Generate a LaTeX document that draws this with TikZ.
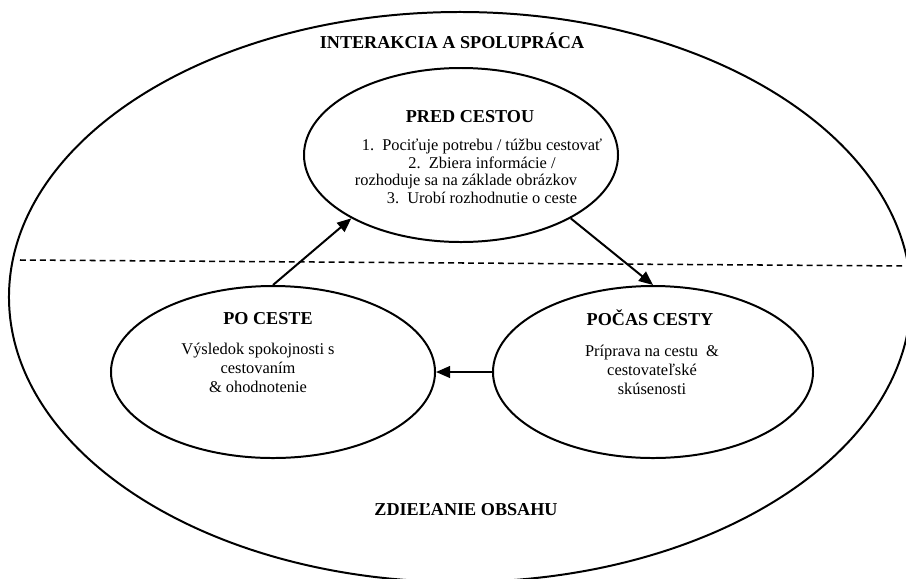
\documentclass[tikz,border=0pt]{standalone}
\usepackage{fontspec}
\setmainfont{Liberation Serif}
\usetikzlibrary{shapes, arrows.meta, positioning}

\begin{document}
\begin{tikzpicture}[
    x=0.03cm, y=-0.03cm,
    phase/.style={draw, ellipse, line width=1.7pt, inner sep=0pt},
    zone/.style={phase, minimum width=27.06cm, minimum height=17.1cm},
    heading/.style={font=\fontsize{15.5}{17}\selectfont\bfseries,
                    anchor=base, inner sep=0pt},
    body/.style={font=\fontsize{14}{16}\selectfont, align=center, inner sep=0pt},
    item/.style={font=\fontsize{14}{15}\selectfont, anchor=base, inner sep=0pt},
    flow/.style={-{Triangle[length=12pt, width=10pt]}, line width=1.7pt},
    divider/.style={line width=1.3pt, dash pattern=on 5pt off 3.5pt},
]
  \useasboundingbox (0,0) rectangle (906,578);

  \node[zone] (world) at (460,297) {};
  \coordinate (cutL) at (20,260);
  \coordinate (cutR) at (910,266);
  \draw[divider] (cutL) -- (cutR);

  \node[phase, minimum width=9.42cm, minimum height=5.22cm] (pre)    at (461,155) {};
  \node[phase, minimum width=9.72cm, minimum height=5.16cm] (post)   at (273,372) {};
  \node[phase, minimum width=9.6cm,  minimum height=5.16cm] (during) at (653,372) {};

  \draw[flow] (post.north)  -- (pre.210);
  \draw[flow] (pre.330)     -- (during.north);
  \draw[flow] (during.west) -- (post.east);

  \node[heading] (collab) at (452,48)  {INTERAKCIA A SPOLUPRÁCA};
  \node[heading] (share)  at (466,515) {ZDIEĽANIE OBSAHU};

  \node[heading] (preTitle) at (470,122) {PRED CESTOU};
  \node[item] (pre1)  at (482,150) {1.\enspace Pociťuje potrebu / túžbu cestovať};
  \node[item] (pre2)  at (482,168) {2.\enspace Zbiera informácie /};
  \node[item] (pre2b) at (466,185) {rozhoduje sa na základe obrázkov};
  \node[item] (pre3)  at (482,203) {3.\enspace Urobí rozhodnutie o ceste};

  \node[heading] (postTitle) at (268,324) {PO CESTE};
  \node[body] (postText) at (258,368) {Výsledok spokojnosti s\\ cestovaním\\ \& ohodnotenie};

  \node[heading] (duringTitle) at (650,325) {POČAS CESTY};
  \node[body] (duringText) at (652,370) {Príprava na cestu \ \&\\ cestovateľské\\ skúsenosti};
\end{tikzpicture}
\end{document}
